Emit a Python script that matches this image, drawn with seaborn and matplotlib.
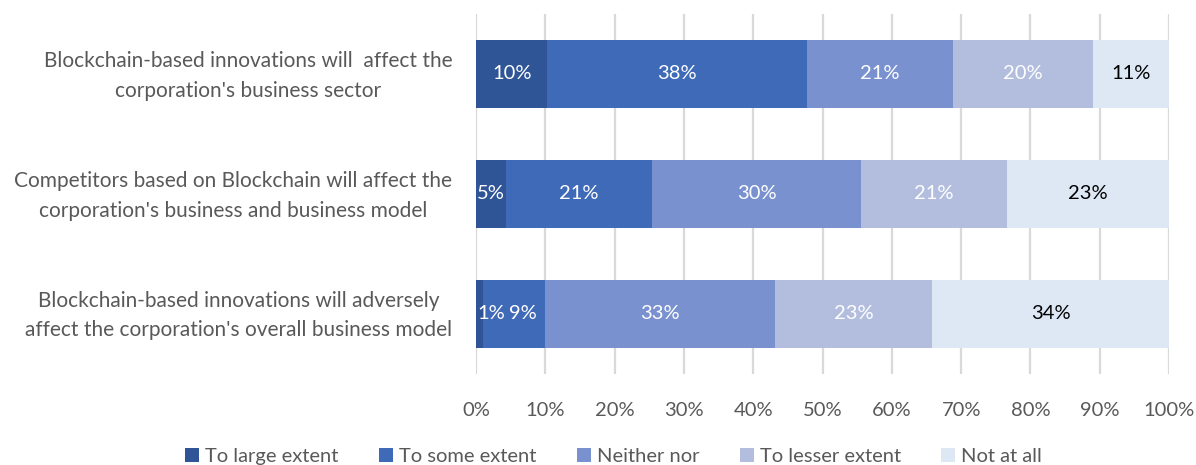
import numpy as np
import pandas as pd
import seaborn as sns
import matplotlib.pyplot as plt
import matplotlib.transforms as mtransforms
from matplotlib.ticker import PercentFormatter

# statements (rows) and answer categories (stack segments)
statements = [
    "Blockchain-based innovations will  affect the\ncorporation's business sector",
    "Competitors based on Blockchain will affect the\ncorporation's business and business model",
    "Blockchain-based innovations will adversely\naffect the corporation's overall business model",
]
answers = ["To large extent", "To some extent", "Neither nor", "To lesser extent", "Not at all"]
colors = ["#2F5597", "#3F6AB7", "#7991CF", "#B3BEDF", "#DEE8F4"]
label_colors = ["white", "white", "white", "white", "black"]

# shares per statement, in answer order
large_extent = [0.103, 0.043, 0.010]
some_extent = [0.375, 0.211, 0.090]
neither_nor = [0.210, 0.302, 0.331]
lesser_extent = [0.202, 0.210, 0.227]
not_at_all = [0.110, 0.234, 0.342]

# rounded labels printed on the segments
shown_labels = [
    ["10%", "38%", "21%", "20%", "11%"],
    ["5%", "21%", "30%", "21%", "23%"],
    ["1%", "9%", "33%", "23%", "34%"],
]

values = np.array([large_extent, some_extent, neither_nor, lesser_extent, not_at_all]).T
cum = values.cumsum(axis=1)

rows = []
for i, s in enumerate(statements):
    for j, a in enumerate(answers):
        rows.append({"statement": s, "answer": a, "value": values[i, j],
                     "right": cum[i, j], "left": cum[i, j] - values[i, j]})
df = pd.DataFrame(rows)

sns.set_theme(style="white")
plt.rcParams["font.family"] = ["Lato", "DejaVu Sans"]
fs = 14.5

fig = plt.figure(figsize=(11.96, 4.65), dpi=100)
ax = fig.add_axes([0.398, 0.196, 0.5795, 0.774])

# stacked bars: draw cumulative totals from the outermost segment inwards
for a, c in reversed(list(zip(answers, colors))):
    sub = df[df["answer"] == a]
    sns.barplot(data=sub, x="right", y="statement", order=statements, color=c,
                saturation=1, width=0.57, errorbar=None, label=a, linewidth=0, ax=ax)

ax.set_xlim(0, 1)
ax.set_ylim(2.5, -0.5)
ax.xaxis.set_major_locator(plt.MultipleLocator(0.1))
ax.xaxis.set_major_formatter(PercentFormatter(1.0, decimals=0))
ax.grid(axis="x", color="#D9D9D9", lw=1.6)
ax.set_axisbelow(True)
sns.despine(ax=ax, left=True, bottom=True)
ax.tick_params(axis="both", length=0, labelcolor="#595959", labelsize=fs)
ax.tick_params(axis="x", pad=20)
ax.tick_params(axis="y", pad=17)
shift_up = mtransforms.ScaledTranslation(0, 5 / 100, fig.dpi_scale_trans)
for t in ax.get_yticklabels():
    t.set_multialignment("center")
    t.set_linespacing(1.6)
    t.set_fontsize(15)
    t.set_transform(t.get_transform() + shift_up)
ax.set_xlabel("")
ax.set_ylabel("")
handles, labels = ax.get_legend_handles_labels()
if ax.get_legend() is not None:
    ax.get_legend().remove()

# segment labels, nudged right when they would collide with the previous one
fig.canvas.draw()
renderer = fig.canvas.get_renderer()
for i in range(len(statements)):
    prev_x1 = None
    for j in range(len(answers)):
        left = df[(df.statement == statements[i]) & (df.answer == answers[j])]["left"].iloc[0]
        v = values[i, j]
        t = ax.text(left + v / 2, i, shown_labels[i][j], ha="center", va="center",
                    color=label_colors[j], fontsize=fs)
        bb = t.get_window_extent(renderer)
        bar_x0 = ax.transData.transform((left, i))[0]
        shift = max(0, bar_x0 + 1 - bb.x0)
        if prev_x1 is not None:
            shift = max(shift, prev_x1 + 4 - bb.x0)
        if shift > 0:
            xpix = ax.transData.transform((left + v / 2, i))[0] + shift
            t.set_x(ax.transData.inverted().transform((xpix, 0))[0])
            bb = t.get_window_extent(renderer)
        prev_x1 = bb.x1

fig.legend(handles[::-1], labels[::-1], loc="lower center", bbox_to_anchor=(0.513, -0.04),
           ncol=5, frameon=False, fontsize=fs, handlelength=0.7, handleheight=0.7,
           columnspacing=2.0, handletextpad=0.3, labelcolor="#595959")

fig.savefig("out.png", dpi=100)
